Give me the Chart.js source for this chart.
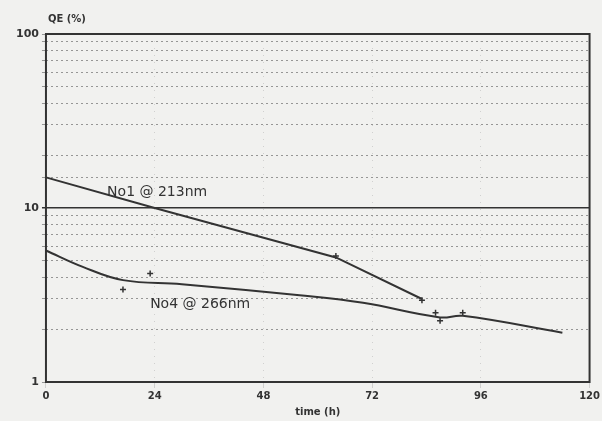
<!DOCTYPE html>
<html>
<head>
<meta charset="utf-8">
<script src="https://cdn.jsdelivr.net/npm/chart.js@4"></script>
<style>
  html, body { margin: 0; padding: 0; background: #f1f1ef; }
  #wrap { width: 602px; height: 421px; }
</style>
</head>
<body>
<div id="wrap"><canvas id="myChart" width="602" height="421"></canvas></div>
<script>
// time (h) / QE (%)
let no1Time = [0, 24, 64, 83]
let no1QE = [15, 10, 5.2, 3.0]
let no4Time = [0, 8, 17, 30, 56, 70, 87, 92, 114]
let no4QE = [5.7, 4.6, 3.85, 3.65, 3.15, 2.85, 2.35, 2.4, 1.92]
let markTime = [64, 83, 17, 23, 86, 87, 92]
let markQE = [5.3, 2.95, 3.4, 4.2, 2.5, 2.25, 2.5]
let xTicks = [0, 24, 48, 72, 96, 120]
let yLabels = [1, 10, 100]
let curveLabels = [
  { text: 'No1 @ 213nm', x: 13.5, y: 11.7 },
  { text: 'No4 @ 266nm', x: 23, y: 2.68 }
]

const ink = '#333'
const pts = (xs, ys) => xs.map((x, i) => ({ x: x, y: ys[i] }))

const frame = {
  id: 'frame',
  afterDraw(chart) {
    const c = chart.ctx, a = chart.chartArea
    c.save()
    c.strokeStyle = ink
    c.lineWidth = 2
    c.strokeRect(a.left, a.top, a.right - a.left, a.bottom - a.top)
    c.fillStyle = ink
    c.font = 'bold 10px "DejaVu Sans"'
    c.textBaseline = 'alphabetic'
    c.fillText('QE (%)', a.left + 2, a.top - 12)
    c.font = '14px "DejaVu Sans"'
    curveLabels.forEach(l => {
      c.fillText(l.text, chart.scales.x.getPixelForValue(l.x), chart.scales.y.getPixelForValue(l.y))
    })
    c.restore()
  }
}

let myChart = document.getElementById('myChart').getContext('2d')

let qeChart = new Chart(myChart, {
  type: 'line',
  data: {
    datasets: [{
      label: 'No1 @ 213nm',
      data: pts(no1Time, no1QE),
      borderColor: ink,
      borderWidth: 2,
      pointRadius: 0,
      tension: 0
    }, {
      label: 'No4 @ 266nm',
      data: pts(no4Time, no4QE),
      borderColor: ink,
      borderWidth: 2,
      pointRadius: 0,
      tension: 0.4
    }, {
      label: 'marks',
      data: pts(markTime, markQE),
      showLine: false,
      pointStyle: 'cross',
      pointRadius: 3,
      borderColor: ink,
      borderWidth: 1.5
    }]
  },
  options: {
    responsive: false,
    animation: false,
    layout: { padding: { top: 34, right: 12, left: 13, bottom: 3 } },
    plugins: { legend: { display: false }, tooltip: { enabled: false } },
    scales: {
      x: {
        type: 'linear',
        min: 0,
        max: 120,
        afterBuildTicks: s => { s.ticks = xTicks.map(v => ({ value: v })) },
        grid: { color: 'rgba(80,80,80,0.2)', tickLength: 6, lineWidth: 1 },
        border: { display: false, dash: [1, 6] },
        ticks: { color: ink, font: { family: 'DejaVu Sans', size: 10, weight: 'bold' }, padding: 2 },
        title: { display: true, text: 'time (h)', color: ink, font: { family: 'DejaVu Sans', size: 10, weight: 'bold' }, padding: { top: 2, bottom: 0 } }
      },
      y: {
        type: 'logarithmic',
        min: 1,
        max: 100,
        grid: {
          color: ctx => ctx.tick && ctx.tick.value === 10 ? ink : 'rgba(60,60,60,0.5)',
          lineWidth: ctx => ctx.tick && ctx.tick.value === 10 ? 1.5 : 1,
          tickLength: 4
        },
        border: { display: false, dash: ctx => ctx.tick && ctx.tick.value === 10 ? [] : [2, 3] },
        ticks: {
          color: ink,
          autoSkip: false,
          font: { family: 'DejaVu Sans', size: 11, weight: 'bold' },
          callback: v => yLabels.includes(v) ? String(v) : ''
        }
      }
    }
  },
  plugins: [frame]
})
</script>
</body>
</html>
